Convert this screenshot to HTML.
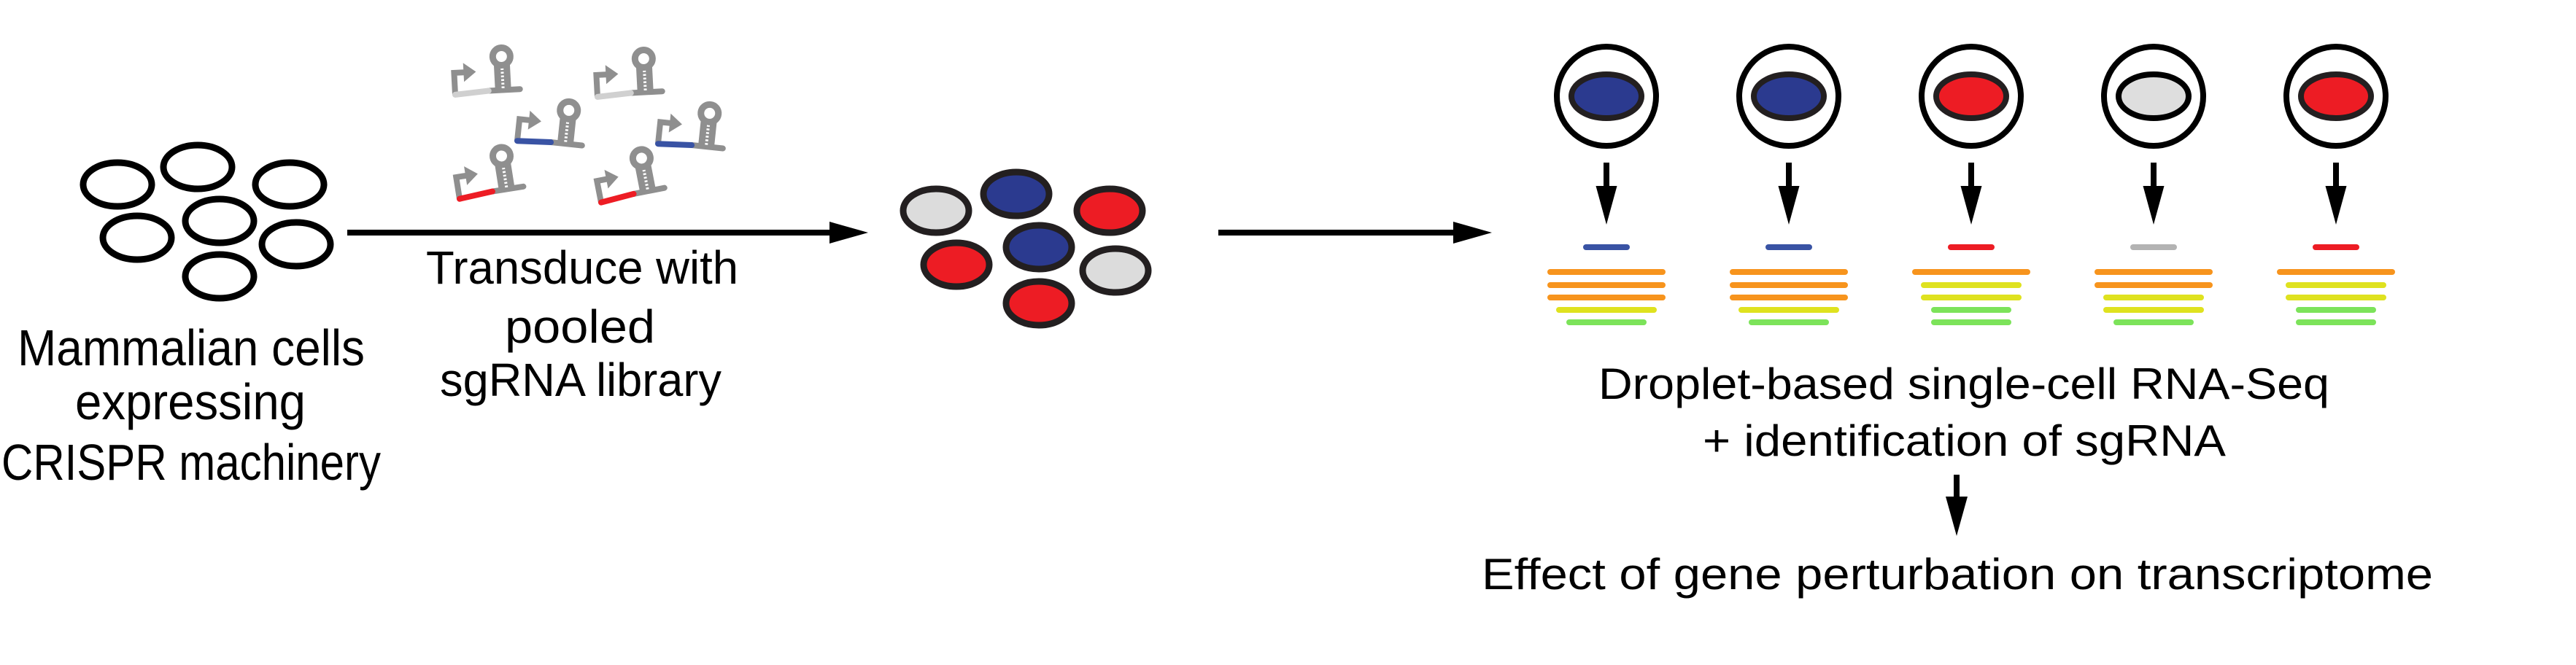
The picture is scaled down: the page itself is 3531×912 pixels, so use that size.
<!DOCTYPE html>
<html><head><meta charset="utf-8"><style>
html,body{margin:0;padding:0;background:#fff}
svg{display:block}
text{font-family:"Liberation Sans",sans-serif;font-size:60px;fill:#000}
</style></head><body>
<svg width="3531" height="912" viewBox="0 0 3531 912" xmlns="http://www.w3.org/2000/svg">
<defs>
<g id="ic">
  <line x1="48" y1="-3" x2="91" y2="-3" stroke="#8f8f8f" stroke-width="8" stroke-linecap="round"/>
  <path d="M2,0 V-30 H17" fill="none" stroke="#8f8f8f" stroke-width="8"/>
  <polygon points="15,-43 32,-30 15,-17" fill="#8f8f8f"/>
  <rect x="57" y="-40" width="22" height="38" fill="#8f8f8f"/>
  <line x1="68" y1="-38" x2="68" y2="-4" stroke="#fff" stroke-width="4" stroke-dasharray="2.5 2.5"/>
  <circle cx="68" cy="-49" r="12" fill="#fff" stroke="#8f8f8f" stroke-width="9"/>
</g>
<g id="stem">
  <rect x="-4" y="223" width="8" height="34" fill="#000"/>
  <polygon points="-14.5,255 14.5,255 0,308" fill="#000"/>
</g>
</defs>

<g fill="#fff" stroke="#000" stroke-width="9">
<ellipse cx="161" cy="253" rx="47" ry="30"/>
<ellipse cx="271" cy="229" rx="47" ry="30"/>
<ellipse cx="397" cy="253" rx="47" ry="30"/>
<ellipse cx="188" cy="326" rx="47" ry="30"/>
<ellipse cx="301" cy="303" rx="47" ry="30"/>
<ellipse cx="406" cy="335" rx="47" ry="30"/>
<ellipse cx="301" cy="379" rx="47" ry="30"/>
</g>

<text x="24" y="501" style="font-size:70px" textLength="476" lengthAdjust="spacingAndGlyphs">Mammalian cells</text>
<text x="103" y="575" style="font-size:70px" textLength="316" lengthAdjust="spacingAndGlyphs">expressing</text>
<text x="2" y="658" style="font-size:70px" textLength="520" lengthAdjust="spacingAndGlyphs">CRISPR machinery</text>

<g transform="translate(622,130) rotate(-3)"><use href="#ic"/><line x1="2" y1="0" x2="48" y2="-3" stroke="#d0d0d0" stroke-width="8" stroke-linecap="round"/></g>
<g transform="translate(817,133) rotate(-3)"><use href="#ic"/><line x1="2" y1="0" x2="48" y2="-3" stroke="#d0d0d0" stroke-width="8" stroke-linecap="round"/></g>
<g transform="translate(707,193) rotate(6)"><use href="#ic"/><line x1="2" y1="0" x2="48" y2="-3" stroke="#3953a4" stroke-width="8" stroke-linecap="round"/></g>
<g transform="translate(900,197) rotate(6)"><use href="#ic"/><line x1="2" y1="0" x2="48" y2="-3" stroke="#3953a4" stroke-width="8" stroke-linecap="round"/></g>
<g transform="translate(628,273) rotate(-9)"><use href="#ic"/><line x1="2" y1="0" x2="48" y2="-3" stroke="#ed1c24" stroke-width="8" stroke-linecap="round"/></g>
<g transform="translate(822,278) rotate(-11)"><use href="#ic"/><line x1="2" y1="0" x2="48" y2="-3" stroke="#ed1c24" stroke-width="8" stroke-linecap="round"/></g>

<rect x="476" y="315" width="664" height="8" fill="#000"/>
<polygon points="1137,304 1190,319 1137,334" fill="#000"/>
<text x="584" y="389" style="font-size:64px" textLength="428" lengthAdjust="spacingAndGlyphs">Transduce with</text>
<text x="692" y="470" style="font-size:64px" textLength="206" lengthAdjust="spacingAndGlyphs">pooled</text>
<text x="603" y="543" style="font-size:64px" textLength="386" lengthAdjust="spacingAndGlyphs">sgRNA library</text>

<g stroke="#231f20" stroke-width="9">
<ellipse cx="1283" cy="289" rx="45" ry="30" fill="#dcdcdc"/>
<ellipse cx="1393" cy="266" rx="45" ry="30" fill="#2b3a8f"/>
<ellipse cx="1521" cy="289" rx="45" ry="30" fill="#ed1c24"/>
<ellipse cx="1311" cy="363" rx="45" ry="30" fill="#ed1c24"/>
<ellipse cx="1424" cy="339" rx="45" ry="30" fill="#2b3a8f"/>
<ellipse cx="1529" cy="371" rx="45" ry="30" fill="#dcdcdc"/>
<ellipse cx="1424" cy="416" rx="45" ry="30" fill="#ed1c24"/>
</g>

<rect x="1670" y="315" width="325" height="8" fill="#000"/>
<polygon points="1992,304 2045,319 1992,334" fill="#000"/>

<g transform="translate(2202,0)">
<ellipse cx="0" cy="132" rx="68" ry="68" fill="#fff" stroke="#000" stroke-width="8"/>
<ellipse cx="0" cy="132" rx="48" ry="30" fill="#2b3a8f" stroke="#231f20" stroke-width="8"/>
<use href="#stem"/>
<line x1="-28" y1="339" x2="28" y2="339" stroke="#3953a4" stroke-width="8" stroke-linecap="round"/>
<g stroke-width="8" stroke-linecap="round">
<line x1="-77" y1="373" x2="77" y2="373" stroke="#f7941d"/>
<line x1="-77" y1="391" x2="77" y2="391" stroke="#f7941d"/>
<line x1="-77" y1="408" x2="77" y2="408" stroke="#f7941d"/>
<line x1="-65" y1="425" x2="65" y2="425" stroke="#dfe21f"/>
<line x1="-51" y1="442" x2="51" y2="442" stroke="#7ce35a"/>
</g></g>
<g transform="translate(2452,0)">
<ellipse cx="0" cy="132" rx="68" ry="68" fill="#fff" stroke="#000" stroke-width="8"/>
<ellipse cx="0" cy="132" rx="48" ry="30" fill="#2b3a8f" stroke="#231f20" stroke-width="8"/>
<use href="#stem"/>
<line x1="-28" y1="339" x2="28" y2="339" stroke="#3953a4" stroke-width="8" stroke-linecap="round"/>
<g stroke-width="8" stroke-linecap="round">
<line x1="-77" y1="373" x2="77" y2="373" stroke="#f7941d"/>
<line x1="-77" y1="391" x2="77" y2="391" stroke="#f7941d"/>
<line x1="-77" y1="408" x2="77" y2="408" stroke="#f7941d"/>
<line x1="-65" y1="425" x2="65" y2="425" stroke="#dfe21f"/>
<line x1="-51" y1="442" x2="51" y2="442" stroke="#7ce35a"/>
</g></g>
<g transform="translate(2702,0)">
<ellipse cx="0" cy="132" rx="68" ry="68" fill="#fff" stroke="#000" stroke-width="8"/>
<ellipse cx="0" cy="132" rx="48" ry="30" fill="#ed1c24" stroke="#231f20" stroke-width="8"/>
<use href="#stem"/>
<line x1="-28" y1="339" x2="28" y2="339" stroke="#ed1c24" stroke-width="8" stroke-linecap="round"/>
<g stroke-width="8" stroke-linecap="round">
<line x1="-77" y1="373" x2="77" y2="373" stroke="#f7941d"/>
<line x1="-65" y1="391" x2="65" y2="391" stroke="#dfe21f"/>
<line x1="-65" y1="408" x2="65" y2="408" stroke="#dfe21f"/>
<line x1="-51" y1="425" x2="51" y2="425" stroke="#7ce35a"/>
<line x1="-51" y1="442" x2="51" y2="442" stroke="#7ce35a"/>
</g></g>
<g transform="translate(2952,0)">
<ellipse cx="0" cy="132" rx="68" ry="68" fill="#fff" stroke="#000" stroke-width="8"/>
<ellipse cx="0" cy="132" rx="48" ry="30" fill="#dedede" stroke="#000" stroke-width="8"/>
<use href="#stem"/>
<line x1="-28" y1="339" x2="28" y2="339" stroke="#b3b3b3" stroke-width="8" stroke-linecap="round"/>
<g stroke-width="8" stroke-linecap="round">
<line x1="-77" y1="373" x2="77" y2="373" stroke="#f7941d"/>
<line x1="-77" y1="391" x2="77" y2="391" stroke="#f7941d"/>
<line x1="-65" y1="408" x2="65" y2="408" stroke="#dfe21f"/>
<line x1="-65" y1="425" x2="65" y2="425" stroke="#dfe21f"/>
<line x1="-51" y1="442" x2="51" y2="442" stroke="#7ce35a"/>
</g></g>
<g transform="translate(3202,0)">
<ellipse cx="0" cy="132" rx="68" ry="68" fill="#fff" stroke="#000" stroke-width="8"/>
<ellipse cx="0" cy="132" rx="48" ry="30" fill="#ed1c24" stroke="#231f20" stroke-width="8"/>
<use href="#stem"/>
<line x1="-28" y1="339" x2="28" y2="339" stroke="#ed1c24" stroke-width="8" stroke-linecap="round"/>
<g stroke-width="8" stroke-linecap="round">
<line x1="-77" y1="373" x2="77" y2="373" stroke="#f7941d"/>
<line x1="-65" y1="391" x2="65" y2="391" stroke="#dfe21f"/>
<line x1="-65" y1="408" x2="65" y2="408" stroke="#dfe21f"/>
<line x1="-51" y1="425" x2="51" y2="425" stroke="#7ce35a"/>
<line x1="-51" y1="442" x2="51" y2="442" stroke="#7ce35a"/>
</g></g>

<text x="2191" y="547" textLength="1002" lengthAdjust="spacingAndGlyphs">Droplet-based single-cell RNA-Seq</text>
<text x="2334" y="625" textLength="717" lengthAdjust="spacingAndGlyphs">+ identification of sgRNA</text>
<rect x="2678" y="651" width="8" height="32" fill="#000"/>
<polygon points="2667,681 2697,681 2682,735" fill="#000"/>
<text x="2031" y="808" textLength="1304" lengthAdjust="spacingAndGlyphs">Effect of gene perturbation on transcriptome</text>
</svg>
</body></html>
